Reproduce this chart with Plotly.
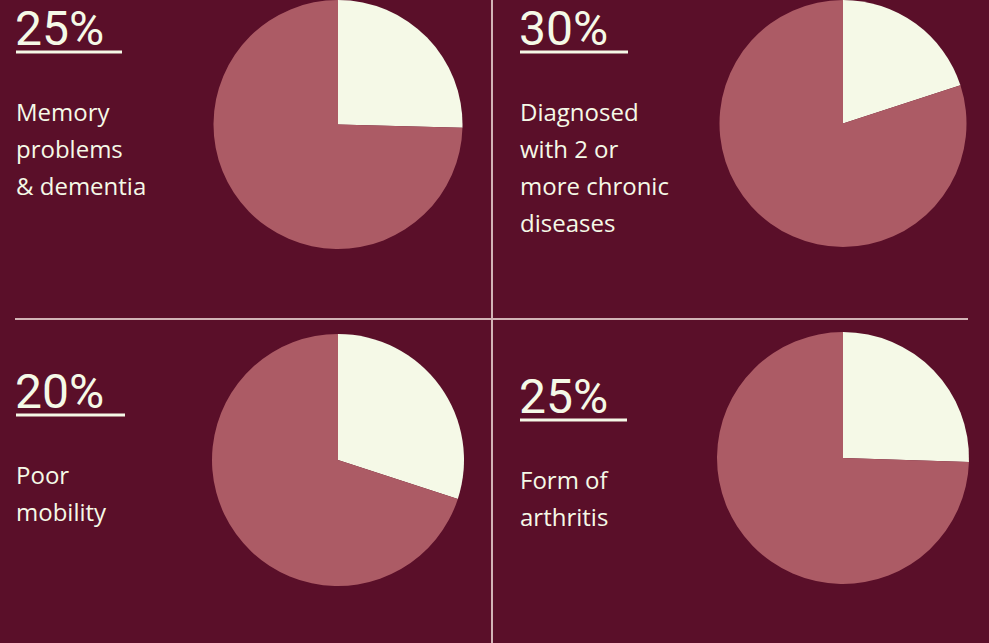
import plotly.graph_objects as go

# ---- data ----
percent_labels = ["25%", "30%", "20%", "25%"]
descriptions = [
    ["Memory", "problems", "& dementia"],
    ["Diagnosed", "with 2 or", "more chronic", "diseases"],
    ["Poor", "mobility"],
    ["Form of", "arthritis"],
]
highlight_share = [25.4, 20.0, 30.0, 25.5]
remaining_share = [74.6, 80.0, 70.0, 74.5]

# ---- style / layout ----
W, H = 989, 643
BG = "#5a0f29"
CREAM = "#f5f9e7"
ROSE = "#ac5b65"
LINE = "#d2b4b6"
PCT_FONT = "Roboto"
DESC_FONT = "Open Sans"

panels = [
    dict(tx=16, pct_base=45, desc_base=120, cx=338, cy=124, r=126),
    dict(tx=520, pct_base=45, desc_base=120, cx=843, cy=123, r=126),
    dict(tx=16, pct_base=408, desc_base=483, cx=338, cy=460, r=126),
    dict(tx=520, pct_base=413, desc_base=488, cx=843, cy=458, r=126),
]
underline_len = [106, 108, 109, 107]
line_gap = 37
pct_size = 48
desc_size = 24


def px_x(x):
    return x / W


def px_y(y):
    return 1 - y / H


fig = go.Figure()
annotations = []
shapes = []

for i, p in enumerate(panels):
    top = max(p["cy"] - p["r"], 0)
    bot = p["cy"] + p["r"]
    if top == 0:
        bot = min(bot, 2 * p["cy"] + 1)
    half = (bot - top) / 2
    fig.add_trace(go.Pie(
        values=[highlight_share[i], remaining_share[i]],
        labels=["highlight", "rest"],
        marker=dict(colors=[CREAM, ROSE], line=dict(width=0)),
        sort=False,
        direction="clockwise",
        rotation=0,
        textinfo="none",
        hoverinfo="skip",
        showlegend=False,
        domain=dict(
            x=[px_x(p["cx"] - half), px_x(p["cx"] + half)],
            y=[px_y(bot), px_y(top)],
        ),
    ))

    annotations.append(dict(
        text=percent_labels[i], x=px_x(p["tx"] - 3), y=px_y(p["pct_base"] - 0.342 * pct_size),
        xref="paper", yref="paper", xanchor="left", yanchor="middle",
        showarrow=False, font=dict(family=PCT_FONT, size=pct_size, color=CREAM),
    ))
    uy = p["pct_base"] + 7
    shapes.append(dict(
        type="line", xref="paper", yref="paper",
        x0=px_x(p["tx"]), x1=px_x(p["tx"] + underline_len[i]),
        y0=px_y(uy), y1=px_y(uy),
        line=dict(color=CREAM, width=3),
    ))
    for j, line in enumerate(descriptions[i]):
        b = p["desc_base"] + j * line_gap
        annotations.append(dict(
            text=line, x=px_x(p["tx"] - 2), y=px_y(b - 0.35 * desc_size),
            xref="paper", yref="paper", xanchor="left", yanchor="middle",
            showarrow=False, font=dict(family=DESC_FONT, size=desc_size, color=CREAM),
        ))

shapes.append(dict(type="line", xref="paper", yref="paper",
                   x0=px_x(492), x1=px_x(492), y0=0, y1=1,
                   line=dict(color=LINE, width=2), layer="above"))
shapes.append(dict(type="line", xref="paper", yref="paper",
                   x0=px_x(15), x1=px_x(968), y0=px_y(319), y1=px_y(319),
                   line=dict(color=LINE, width=2), layer="above"))

fig.update_layout(
    width=W, height=H,
    margin=dict(l=0, r=0, t=0, b=0),
    paper_bgcolor=BG, plot_bgcolor=BG,
    annotations=annotations, shapes=shapes,
    showlegend=False,
)

fig.write_html(
    "out.html",
    config={"displayModeBar": False},
    post_script="document.body.style.margin='0';document.body.style.overflow='hidden';",
)
